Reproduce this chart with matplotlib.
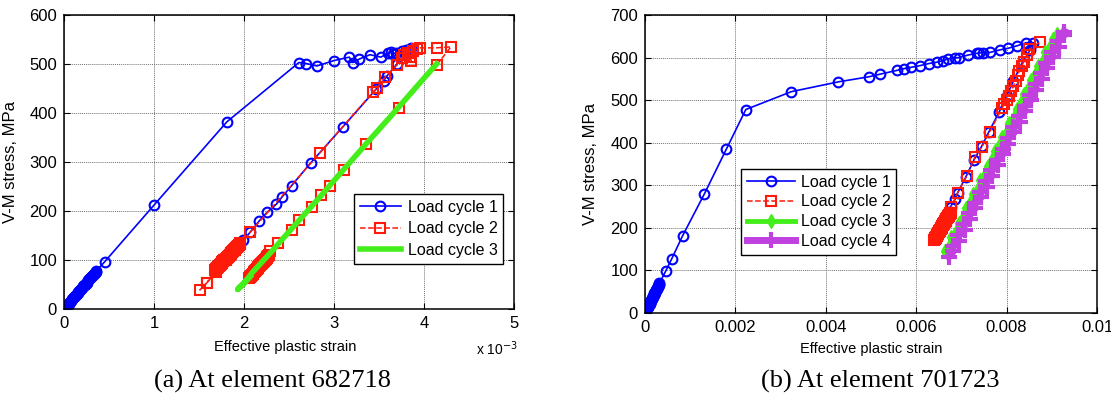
import matplotlib
matplotlib.use("Agg")
import matplotlib.pyplot as plt

plt.rcParams['font.family'] = ['Liberation Sans', 'DejaVu Sans']

# ---------------- (a) element 682718, strain in units of 1e-3 ----------------
a_c1_x = [0.00, 0.01, 0.02, 0.03, 0.04, 0.05, 0.06, 0.07, 0.08, 0.09, 0.10, 0.11, 0.12,
          0.13, 0.14, 0.15, 0.16, 0.17, 0.18, 0.19, 0.20, 0.21, 0.22, 0.23, 0.24, 0.25,
          0.26, 0.27, 0.28, 0.29, 0.30, 0.31, 0.32, 0.33, 0.34, 0.35, 0.36,
          0.45, 1.00, 1.81, 2.61, 2.69, 2.81, 3.00, 3.17, 3.21, 3.28, 3.40, 3.52, 3.60,
          3.63, 3.66, 3.69, 3.75, 3.80, 3.85,
          3.70, 3.59, 3.55, 3.47, 3.10, 2.74, 2.53, 2.42, 2.36, 2.26, 2.17, 2.07, 1.99]
a_c1_y = [0, 2, 4, 7, 9, 11, 13, 15, 17, 20, 22, 24, 26,
          28, 30, 33, 35, 37, 39, 41, 43, 46, 48, 50, 52, 54,
          56, 59, 61, 63, 65, 67, 69, 72, 74, 76, 78,
          96, 212, 382, 503, 501, 496, 507, 514, 503, 510, 519, 514, 522,
          524, 521, 523, 526, 528, 532,
          500, 476, 466, 449, 372, 298, 252, 228, 214, 198, 180, 157, 140]

a_c2_x = [1.96, 1.95, 1.94, 1.93, 1.92, 1.91, 1.90, 1.89, 1.88, 1.87, 1.86, 1.85, 1.84,
          1.83, 1.82, 1.81, 1.80, 1.79, 1.78, 1.77, 1.76, 1.75, 1.74, 1.73, 1.72, 1.71,
          1.70, 1.69, 1.68,
          1.59, 1.51, 1.59, 1.69, 1.80, 1.90, 2.07, 2.84, 3.43, 3.48, 3.57, 3.70,
          3.75, 3.78, 3.82, 3.86, 3.84, 3.88, 3.92, 3.95, 4.14, 4.30, 4.14, 3.72, 3.36,
          3.11, 2.96, 2.86, 2.76, 2.61, 2.53, 2.38, 2.29,
          2.28, 2.27, 2.26, 2.25, 2.24, 2.23, 2.22, 2.21, 2.20, 2.19, 2.18, 2.17, 2.16,
          2.15, 2.14, 2.13, 2.12, 2.11, 2.10, 2.09, 2.08, 2.07, 2.06]
a_c2_y = [134, 132, 130, 128, 126, 124, 122, 120, 118, 116, 114, 112, 110,
          108, 106, 104, 103, 101, 99, 97, 95, 93, 91, 89, 87, 85,
          83, 81, 79,
          54, 39, 54, 76, 100, 120, 157, 318, 442, 451, 474, 498,
          512, 518, 522, 506, 515, 526, 530, 533, 533, 535, 498, 410, 336,
          284, 252, 232, 209, 181, 162, 134, 119,
          110, 108, 106, 104, 102, 100, 98, 96, 93, 91, 89, 87, 85,
          83, 81, 79, 77, 75, 72, 70, 68, 66, 64]

a_c3_x = [2.07, 2.03, 1.99, 1.95, 1.93, 1.97, 2.01, 2.05, 2.09, 2.13, 2.17, 2.21, 2.26,
          2.32, 2.40, 2.55, 2.70, 2.85, 3.00, 3.20, 3.40, 3.60, 3.80, 4.00, 4.14]
a_c3_y = [66, 58, 50, 44, 40, 48, 56, 64, 74, 82, 90, 98, 108,
          120, 137, 168, 199, 230, 262, 304, 346, 387, 429, 471, 500]

a_xticks = [0, 1, 2, 3, 4, 5]
a_yticks = [0, 100, 200, 300, 400, 500, 600]

# ---------------- (b) element 701723 ----------------
b_c1_x = [0.00000, 0.00001, 0.00002, 0.00003, 0.00004, 0.00005, 0.00006, 0.00007,
          0.00008, 0.00009, 0.00010, 0.00011, 0.00012, 0.00013, 0.00014, 0.00015,
          0.00016, 0.00017, 0.00018, 0.00019, 0.00020, 0.00021, 0.00022, 0.00023,
          0.00024, 0.00025, 0.00026, 0.00027, 0.00028, 0.00029, 0.00030, 0.00031,
          0.00032,
          0.00046, 0.00059, 0.00083, 0.00131, 0.00180, 0.00223, 0.00324, 0.00428,
          0.00496, 0.00520, 0.00558, 0.00573, 0.00588, 0.00608, 0.00628, 0.00645,
          0.00660, 0.00671, 0.00685, 0.00695, 0.00715, 0.00734, 0.00740, 0.00748,
          0.00763, 0.00785, 0.00804, 0.00824, 0.00844, 0.00859,
          0.00852, 0.00833, 0.00815, 0.00800, 0.00784, 0.00760, 0.00745, 0.00728,
          0.00710, 0.00692, 0.00686, 0.00676, 0.00670]
b_c1_y = [0, 2, 4, 7, 9, 11, 13, 15, 18, 20, 22, 24, 26, 28, 31, 33,
          35, 37, 39, 42, 44, 46, 48, 50, 53, 55, 57, 59, 61, 63, 66, 68,
          70,
          99, 127, 181, 279, 385, 478, 520, 543,
          555, 561, 570, 574, 577, 581, 586, 589,
          593, 597, 599, 600, 606, 610, 611, 611,
          612, 618, 622, 628, 635, 635,
          618, 585, 545, 510, 473, 424, 392, 360,
          320, 283, 267, 250, 238]

b_c2_x = [0.00676, 0.00675, 0.00674, 0.00673, 0.00672, 0.00671, 0.00670, 0.00669,
          0.00668, 0.00667, 0.00666, 0.00665, 0.00664, 0.00663, 0.00662, 0.00661,
          0.00660, 0.00659, 0.00658, 0.00657, 0.00656, 0.00655, 0.00654, 0.00653,
          0.00652, 0.00651, 0.00650, 0.00649, 0.00648, 0.00647, 0.00646, 0.00645,
          0.00644, 0.00643, 0.00642, 0.00641, 0.00640,
          0.00677, 0.00692, 0.00712, 0.00730, 0.00746, 0.00763, 0.00790, 0.00795,
          0.00800, 0.00805, 0.00810, 0.00815, 0.00820, 0.00825, 0.00828, 0.00833,
          0.00838, 0.00845, 0.00850, 0.00874]
b_c2_y = [236, 234, 232, 231, 229, 227, 225, 224, 222, 220,
          218, 216, 215, 213, 211, 209, 208, 206, 204, 202,
          200, 199, 197, 195, 193, 192, 190, 188, 186, 184,
          183, 181, 179, 177, 176, 174, 172,
          248, 283, 322, 367, 391, 426, 482, 492,
          500, 510, 522, 533, 545, 560, 569, 580,
          590, 605, 619, 637]

b_c3_x = [0.00664, 0.00674, 0.00678, 0.00690, 0.00694, 0.00706, 0.00710, 0.00722,
          0.00726, 0.00738, 0.00742, 0.00754, 0.00758, 0.00770, 0.00774, 0.00786,
          0.00790, 0.00802, 0.00806, 0.00818, 0.00822, 0.00834, 0.00838, 0.00850,
          0.00854, 0.00866, 0.00870, 0.00882, 0.00886, 0.00898, 0.00902, 0.00912]
b_c3_y = [146, 160, 178, 195, 212, 228, 246, 262, 279, 296, 312, 330, 346, 363, 380,
          396, 413, 430, 447, 463, 480, 497, 514, 530, 547, 564, 580, 597, 613, 630,
          643, 656]

b_c4_x = [0.00672, 0.00682, 0.00681, 0.00694, 0.00693, 0.00707, 0.00705, 0.00719,
          0.00717, 0.00731, 0.00729, 0.00744, 0.00741, 0.00756, 0.00754, 0.00768,
          0.00766, 0.00780, 0.00778, 0.00792, 0.00791, 0.00804, 0.00803, 0.00817,
          0.00815, 0.00829, 0.00827, 0.00841, 0.00840, 0.00854, 0.00852, 0.00866,
          0.00864, 0.00878, 0.00876, 0.00890, 0.00888, 0.00903, 0.00901, 0.00915,
          0.00913, 0.00927, 0.00928]
b_c4_y = [132, 145, 158, 170, 183, 196, 208, 221, 234, 246, 259, 272, 284, 297, 310,
          322, 335, 348, 360, 373, 386, 398, 411, 424, 436, 449, 462, 474, 487, 500,
          512, 525, 538, 550, 563, 576, 588, 601, 614, 626, 639, 652, 660]

b_xticks = [0, 0.002, 0.004, 0.006, 0.008, 0.01]
b_xticklabels = ['0', '0.002', '0.004', '0.006', '0.008', '0.01']
b_yticks = [0, 100, 200, 300, 400, 500, 600, 700]

legend_labels = ['Load cycle 1', 'Load cycle 2', 'Load cycle 3', 'Load cycle 4']

BLUE = '#0000FF'
RED = '#FF1A0A'
GREEN = '#44EE1A'
PURPLE = '#C040E0'

W, H = 1111, 403
fig = plt.figure(figsize=(W / 100, H / 100), dpi=100)

ax1 = fig.add_axes([64 / W, 1 - 309 / H, 450 / W, 294 / H])
ax2 = fig.add_axes([645 / W, 1 - 313 / H, 452 / W, 298 / H])


def style_axes(ax):
    ax.grid(True, color='0.45', linestyle=(0, (1, 1)), linewidth=0.7)
    ax.set_axisbelow(True)
    ax.tick_params(direction='in', top=True, right=True, labelsize=12,
                   length=4, width=0.8, pad=5)
    for sp in ax.spines.values():
        sp.set_linewidth(1.1)


MS = 7
MEW = 1.5

# (a)
ax1.plot(a_c1_x, a_c1_y, '-o', color=BLUE, lw=1.2, ms=MS, mfc='none', mew=MEW,
         label=legend_labels[0])
ax1.plot(a_c2_x, a_c2_y, '--s', color=RED, lw=1.1, ms=MS, mfc='none', mew=MEW,
         label=legend_labels[1])
ax1.plot(a_c3_x, a_c3_y, '-', color=GREEN, lw=4, label=legend_labels[2])
ax1.set_xlim(0, 5)
ax1.set_ylim(0, 600)
ax1.set_xticks(a_xticks)
ax1.set_yticks(a_yticks)
style_axes(ax1)
ax1.set_xlabel('Effective plastic strain', fontsize=10.5)
ax1.set_ylabel('V-M stress, MPa', fontsize=12)
ax1.xaxis.set_label_coords(0.491, -0.105)
ax1.yaxis.set_label_coords(-0.102, 0.5)
leg1 = ax1.legend(loc='upper left', bbox_to_anchor=(290 / 450, 1 - 179 / 294),
                  fontsize=11.5, frameon=True, fancybox=False, framealpha=1,
                  edgecolor='black', handlelength=2.6, borderpad=0.35,
                  labelspacing=0.42, handletextpad=0.4, borderaxespad=0)
leg1.get_frame().set_linewidth(1.0)

# (b)
ax2.plot(b_c1_x, b_c1_y, '-o', color=BLUE, lw=1.2, ms=MS, mfc='none', mew=MEW,
         label=legend_labels[0])
ax2.plot(b_c2_x, b_c2_y, '--s', color=RED, lw=1.1, ms=MS, mfc='none', mew=MEW,
         label=legend_labels[1])
ax2.plot(b_c3_x, b_c3_y, '-d', color=GREEN, lw=3.5, ms=7, mfc=GREEN, mec=GREEN,
         label=legend_labels[2])
ax2.plot(b_c4_x, b_c4_y, '-+', color=PURPLE, lw=5, ms=12, mew=3,
         label=legend_labels[3])
ax2.set_xlim(0, 0.01)
ax2.set_ylim(0, 700)
ax2.set_xticks(b_xticks)
ax2.set_xticklabels(b_xticklabels)
ax2.set_yticks(b_yticks)
style_axes(ax2)
ax2.set_xlabel('Effective plastic strain', fontsize=10.5)
ax2.set_ylabel('V-M stress, MPa', fontsize=12)
ax2.xaxis.set_label_coords(0.5, -0.097)
ax2.yaxis.set_label_coords(-0.104, 0.5)
leg2 = ax2.legend(loc='upper left', bbox_to_anchor=(96 / 452, 1 - 154 / 298),
                  fontsize=11.5, frameon=True, fancybox=False, framealpha=1,
                  edgecolor='black', handlelength=3.0, borderpad=0.35,
                  labelspacing=0.3, handletextpad=0.4, borderaxespad=0)
leg2.get_frame().set_linewidth(1.0)

# exponent of the strain axis in (a)
fig.text(476 / W, 1 - 349 / H, r'x 10$^{-3}$', fontsize=10, va='center', ha='left')

# panel captions
fig.text(272 / W, 1 - 381 / H, '(a) At element 682718', fontsize=19,
         family=['Liberation Serif', 'DejaVu Serif'], ha='center', va='center')
fig.text(880 / W, 1 - 381 / H, '(b) At element 701723', fontsize=19,
         family=['Liberation Serif', 'DejaVu Serif'], ha='center', va='center')

fig.savefig('out.png', dpi=100)
